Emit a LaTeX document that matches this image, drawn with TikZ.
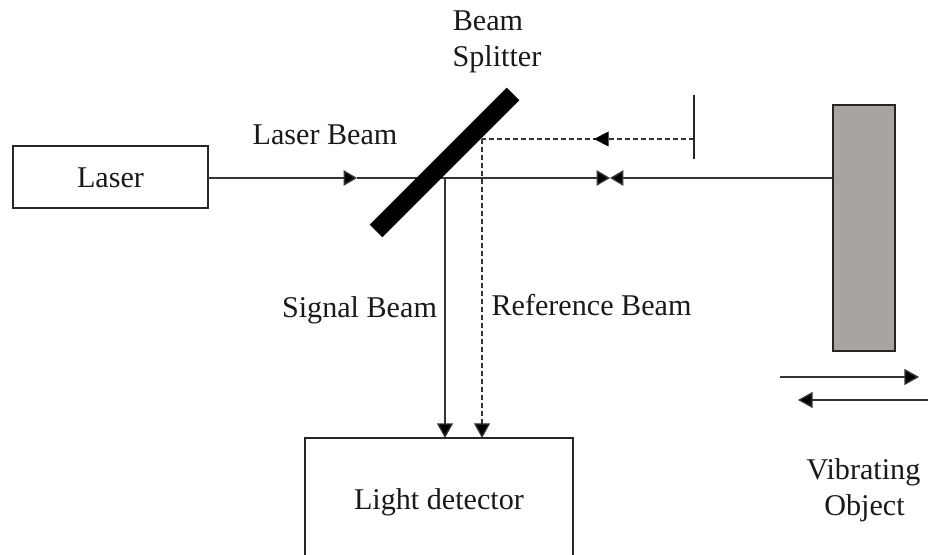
\documentclass[tikz,border=0pt]{standalone}
\usepackage{fontspec}
\setmainfont{Liberation Serif}
\usetikzlibrary{arrows.meta}
\definecolor{objgray}{HTML}{A8A4A2}
\definecolor{beamc}{HTML}{333333}
\tikzset{
  x=0.75pt,y=-0.75pt,
  lbl/.style={font=\fontsize{22.6}{26}\selectfont,text=black!90,inner sep=0pt,anchor=base},
  boxn/.style={inner sep=0pt,outer sep=0pt,line width=1.5pt,draw=black!85},
  beam/.style={line width=1.05pt,draw=beamc},
  refbeam/.style={line width=0.95pt,draw=beamc,dash pattern=on 3.4pt off 2.6pt},
  tip/.style={-{Triangle[length=11pt,width=12pt,fill=black]}},
  smalltip/.style={-{Triangle[length=10pt,width=11.5pt,fill=black]}},
}
\begin{document}
\begin{tikzpicture}
\useasboundingbox (0,0) rectangle (928,555);
% boxes
\node[boxn,minimum width=146.2pt,minimum height=46.5pt] (laser) at (110.5,177) {};
\node[lbl] (lasertxt) at (110.5,188) {Laser};
\node[boxn,fill=objgray,minimum width=46.5pt,minimum height=184.5pt] (object) at (864,228) {};
\node[minimum width=201pt,minimum height=87.75pt,inner sep=0pt,outer sep=0pt] (detector) at (439,496.5) {};
\draw[boxn] (detector.south west) -- (detector.north west) -- (detector.north east) -- (detector.south east);
\node[lbl] (dettxt) at (439,509) {Light detector};
% named points
\coordinate (split1) at (513,94);
\coordinate (split2) at (376,231);
\coordinate (t1) at (357,178);
\coordinate (bowl) at (610,178);
\coordinate (sigstart) at (445,178);
\coordinate (refcorner) at (482,139);
\coordinate (mirror) at (694,139);
\coordinate (mirrortop) at (694,95);
\coordinate (mirrorbot) at (694,159);
\coordinate (t2) at (594,139);
\coordinate (objleft) at (833,178);
\coordinate (sigend) at (445,438);
\coordinate (refend) at (482,438);
\coordinate (ra) at (780,377);
\coordinate (rb) at (919,377);
\coordinate (la) at (928,400);
\coordinate (lb) at (798,400);
% beams
\draw[beam,smalltip] (laser.east |- t1) -- (t1);
\draw[beam,smalltip] (t1) -- (bowl);
\draw[beam,smalltip] (objleft) -- (bowl);
\draw[beam,tip] (sigstart) -- (sigend);
\draw[refbeam] (mirror) -- (refcorner);
\draw[refbeam,tip] (refcorner) -- (refend);
\fill[black] (t2) -- ++(14.5,-7.5) -- ++(0,15) -- cycle;
% splitter and mirror
\draw[line width=13.3pt,draw=black] (split1) -- (split2);
\draw[line width=1.4pt,draw=black!85] (mirrortop) -- (mirrorbot);
% motion arrows
\draw[beam,tip] (ra) -- (rb);
\draw[beam,tip] (la) -- (lb);
% labels
\node[lbl] (beamtxt) at (488,31) {Beam};
\node[lbl] (splittertxt) at (497,67) {Splitter};
\node[lbl] (lbtxt) at (325,145) {Laser Beam};
\node[lbl] (sbtxt) at (359.5,318) {Signal Beam};
\node[lbl] (rbtxt) at (591.5,316) {Reference Beam};
\node[lbl] (vibtxt) at (863.5,480) {Vibrating};
\node[lbl] (objtxt) at (864.5,516) {Object};
\end{tikzpicture}
\end{document}
